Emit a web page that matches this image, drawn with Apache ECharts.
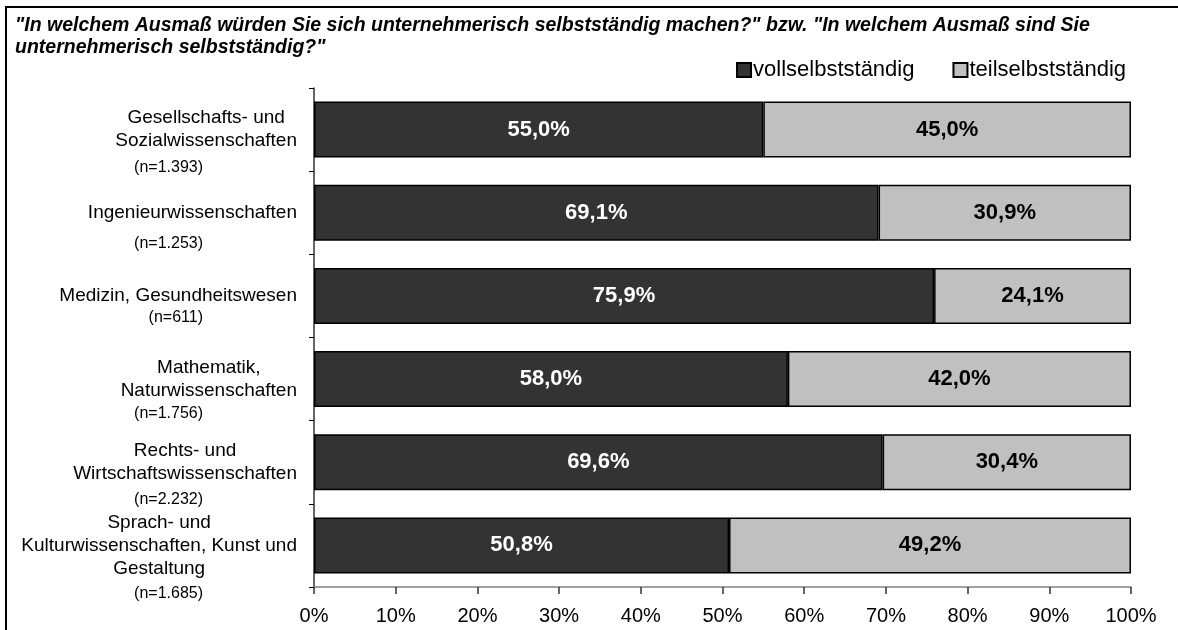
<!DOCTYPE html>
<html>
<head>
<meta charset="utf-8">
<script src="https://cdn.jsdelivr.net/npm/echarts@6/dist/echarts.min.js"></script>
<style>
html,body{margin:0;padding:0;background:#fff;}
#chart{width:1178px;height:630px;}
</style>
</head>
<body>
<div id="chart"></div>
<script>
const titleText = '"In welchem Ausmaß würden Sie sich unternehmerisch selbstständig machen?" bzw. "In welchem Ausmaß sind Sie\nunternehmerisch selbstständig?"';
const categories = [
  'Gesellschafts- und\nSozialwissenschaften',
  'Ingenieurwissenschaften',
  'Medizin, Gesundheitswesen',
  'Mathematik,\nNaturwissenschaften',
  'Rechts- und\nWirtschaftswissenschaften',
  'Sprach- und\nKulturwissenschaften, Kunst und\nGestaltung'
];
const nLabels = ['(n=1.393)', '(n=1.253)', '(n=611)', '(n=1.756)', '(n=2.232)', '(n=1.685)'];
const seriesNames = ['vollselbstständig', 'teilselbstständig'];
const vollValues = [55.0, 69.1, 75.9, 58.0, 69.6, 50.8];
const teilValues = [45.0, 30.9, 24.1, 42.0, 30.4, 49.2];
const xTicks = [0, 10, 20, 30, 40, 50, 60, 70, 80, 90, 100];

const FONT = '"Liberation Sans", Arial, sans-serif';
const nOffsets = [38, 31, 22, 35, 37, 48];
const nRich = {};
nOffsets.forEach((o, i) => {
  nRich['n' + i] = { fontSize: 16, fontFamily: FONT, color: '#000', lineHeight: 18, padding: [2 * o, 0, 0, 0] };
});
const fmt = v => v.toFixed(1).replace('.', ',') + '%';

const chart = echarts.init(document.getElementById('chart'), null, { renderer: 'canvas' });
chart.setOption({
  animation: false,
  backgroundColor: '#fff',
  textStyle: { fontFamily: FONT },
  title: {
    text: titleText,
    left: 10, top: 10,
    textStyle: { fontFamily: FONT, fontSize: 19.5, fontWeight: 'bold', fontStyle: 'italic', color: '#000', lineHeight: 22 }
  },
  legend: {
    data: seriesNames,
    right: 47, top: 54,
    itemWidth: 14, itemHeight: 14, itemGap: 38,
    icon: 'rect',
    textStyle: { fontFamily: FONT, fontSize: 22, color: '#000', padding: [0, 0, 0, -3] }
  },
  grid: { left: 314, right: 47, top: 88, bottom: 43, containLabel: false },
  xAxis: {
    type: 'value', min: xTicks[0], max: xTicks[xTicks.length - 1], interval: 10,
    axisLine: { show: true, lineStyle: { color: '#808080', width: 1.5 } },
    axisTick: { show: true, length: 7, lineStyle: { color: '#333', width: 1.5 } },
    splitLine: { show: false },
    axisLabel: { formatter: '{value}%', fontFamily: FONT, fontSize: 20, color: '#000', margin: 19 }
  },
  yAxis: [
    {
      type: 'category', inverse: true, data: categories,
      axisLine: { show: true, lineStyle: { color: '#333', width: 1.5 } },
      axisTick: { show: true, length: 5, lineStyle: { color: '#000', width: 1 } },
      axisLabel: {
        interval: 0, margin: 17,
        formatter: v => v.split('\n').map(s => '{m|' + s + '}').join('\n'),
        rich: { m: { fontFamily: FONT, fontSize: 19, color: '#000', lineHeight: 23, align: 'center' } }
      }
    },
    {
      type: 'category', inverse: true, position: 'left', data: nLabels,
      axisLine: { show: false }, axisTick: { show: false }, splitLine: { show: false },
      axisLabel: {
        interval: 0, margin: 111,
        formatter: (v, i) => '{n' + i + '|' + v + '}',
        rich: nRich
      }
    }
  ],
  series: [
    {
      name: seriesNames[0], type: 'bar', stack: 'total', yAxisIndex: 0, barWidth: 56,
      data: vollValues,
      itemStyle: { color: '#333333', borderColor: '#000', borderWidth: 1.5 },
      label: { show: true, position: 'inside', formatter: p => fmt(p.value), color: '#fff', fontFamily: FONT, fontSize: 22, fontWeight: 'bold' }
    },
    {
      name: seriesNames[1], type: 'bar', stack: 'total', yAxisIndex: 0, barWidth: 56,
      data: teilValues,
      itemStyle: { color: '#C0C0C0', borderColor: '#000', borderWidth: 1.5 },
      label: { show: true, position: 'inside', formatter: p => fmt(p.value), color: '#000', fontFamily: FONT, fontSize: 22, fontWeight: 'bold' }
    }
  ],
  graphic: [
    { type: 'polyline', shape: { points: [[6, 630], [6, 7], [1178, 7]] }, style: { stroke: '#000', lineWidth: 2, fill: null }, silent: true }
  ]
});
</script>
</body>
</html>
